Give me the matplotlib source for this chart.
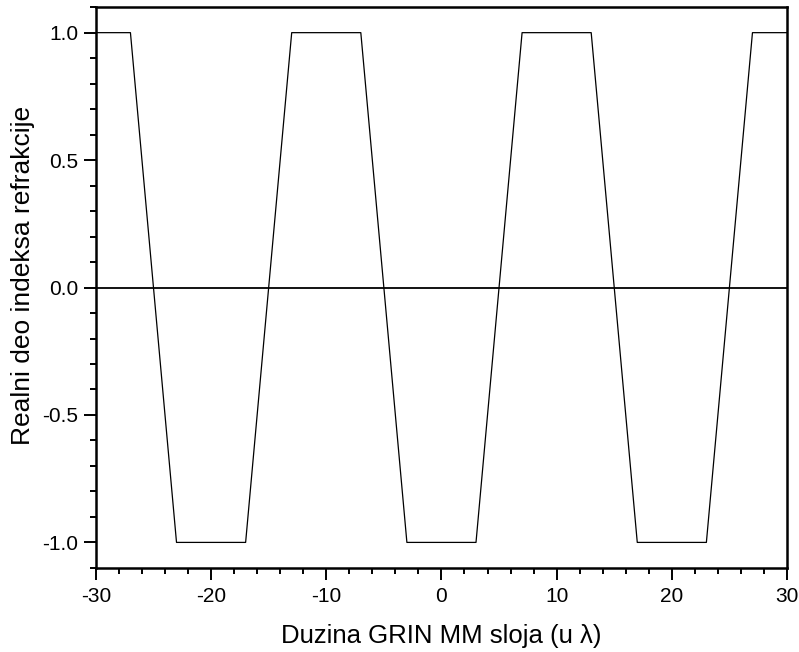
import numpy as np
import matplotlib
matplotlib.use("Agg")
import matplotlib.pyplot as plt
from matplotlib.ticker import MultipleLocator

plt.rcParams['font.family'] = ['Liberation Sans', 'DejaVu Sans']

# trapezoid wave, corner points
x = [-30, -27, -23, -17, -13, -7, -3, 3, 7, 13, 17, 23, 27, 30]
y = [1, 1, -1, -1, 1, 1, -1, -1, 1, 1, -1, -1, 1, 1]

fig = plt.figure(figsize=(7.99, 6.52), dpi=100)
ax = fig.add_axes([0.120, 0.129, 0.865, 0.860])

ax.plot(x, y, color='black', lw=0.9)
ax.axhline(0, color='black', lw=1.3)

ax.set_xlim(-30, 30)
ax.set_ylim(-1.1, 1.1)
ax.xaxis.set_minor_locator(MultipleLocator(2))
ax.yaxis.set_minor_locator(MultipleLocator(0.1))
ax.set_xticks(np.arange(-30, 31, 10))
ax.set_xticklabels([str(v) for v in range(-30, 31, 10)])
ax.set_yticks([-1.0, -0.5, 0.0, 0.5, 1.0])
ax.set_yticklabels(['-1.0', '-0.5', '0.0', '0.5', '1.0'])

for s in ax.spines.values():
    s.set_linewidth(1.8)
ax.tick_params(which='major', direction='out', length=8.6, width=1.4, labelsize=15)
ax.tick_params(which='minor', direction='out', length=4.3, width=1.4)
ax.tick_params(axis='y', pad=4)
ax.tick_params(axis='x', pad=5)

ax.set_xlabel('Duzina GRIN MM sloja (u λ)', fontsize=18.5, labelpad=13)
ax.set_ylabel('Realni deo indeksa refrakcije', fontsize=19, labelpad=5)
ax.yaxis.label.set_y(0.521)

fig.savefig('out.png', dpi=100)
